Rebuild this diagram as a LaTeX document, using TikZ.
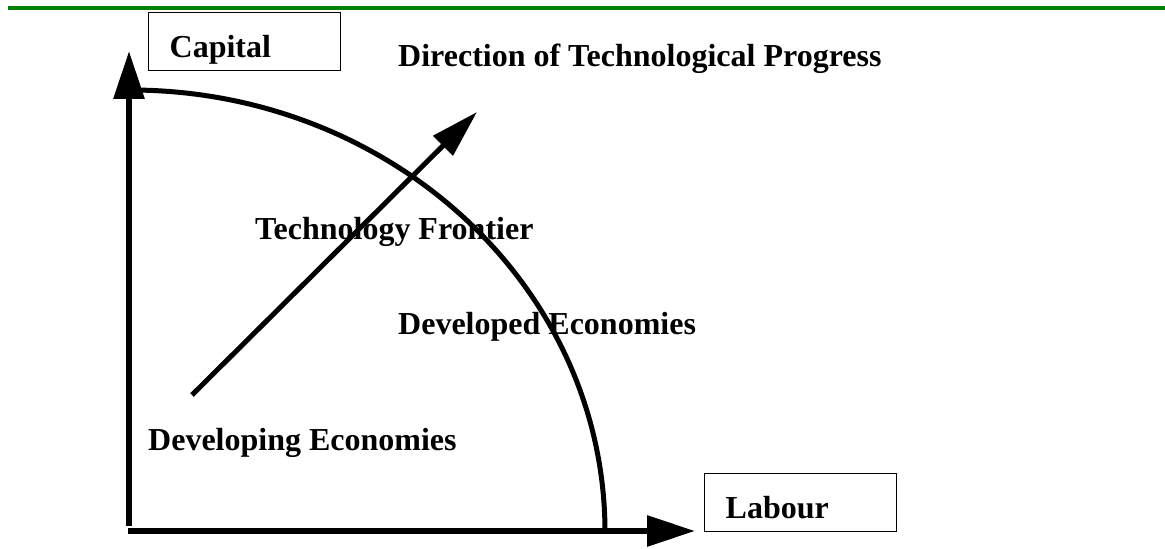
\documentclass[tikz,border=0pt]{standalone}
\usepackage{fontspec}
\setmainfont{Liberation Serif}
\usepackage{tikz}
\usetikzlibrary{positioning,arrows.meta}

\begin{document}
\begin{tikzpicture}[x=1pt,y=1pt,font=\fontsize{32}{38}\selectfont\bfseries,
  axis/.style={line width=6pt,-{Triangle[length=48pt,width=30pt]}},
  labelbox/.style={draw,line width=1.3pt,anchor=north west,inner xsep=21pt,inner ysep=4pt,text width=150pt,align=left,text height=41pt,text depth=9pt},
  caption/.style={anchor=base west,inner sep=0pt}]
  \useasboundingbox (0,0) rectangle (1165,549);
  \draw[green!50!black,line width=4pt] (8,541) -- (1165,541);
  \node[labelbox](capital) at (148,537){Capital};
  \node[labelbox](labour) at (704,76){Labour};
  \coordinate (origin) at (129,23);
  \coordinate (ytip) at (129,498);
  \coordinate (xstart) at (128,18);
  \coordinate (xtip) at (695,18);
  \draw[axis] (origin) -- (ytip);
  \draw[axis] (xstart) -- (xtip);
  \coordinate (fronttop) at (130,459);
  \draw[line width=5pt] (fronttop) arc[start angle=90,end angle=0,x radius=475,y radius=442];
  \coordinate (poor) at (192,154);
  \coordinate (progress) at (477,437);
  \draw[line width=5pt,-{Triangle[length=48pt,width=27pt]}] (poor) -- (progress);
  \node[caption](direction) at (398,482){Direction of Technological Progress};
  \node[caption](frontier) at (255,309){Technology Frontier};
  \node[caption](developed) at (398,214){Developed Economies};
  \node[caption](developing) at (148,98){Developing Economies};
\end{tikzpicture}
\end{document}
